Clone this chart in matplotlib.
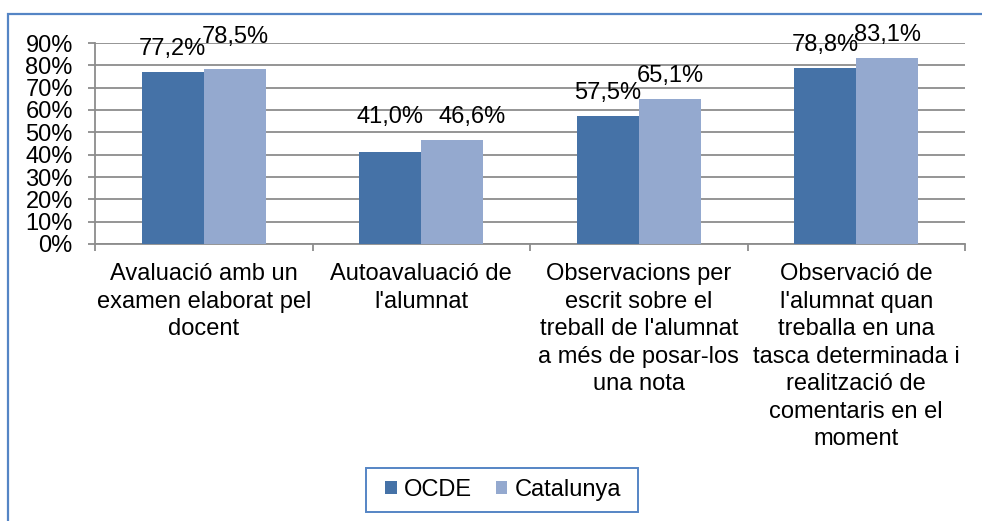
import matplotlib
matplotlib.use("Agg")
import matplotlib.pyplot as plt
from matplotlib.patches import Rectangle, Patch
import numpy as np

categories = [
    "Avaluació amb un\nexamen elaborat pel\ndocent",
    "Autoavaluació de\nl'alumnat",
    "Observacions per\nescrit sobre el\ntreball de l'alumnat\na més de posar-los\nuna nota",
    "Observació de\nl'alumnat quan\ntreballa en una\ntasca determinada i\nrealització de\ncomentaris en el\nmoment",
]
ocde = [77.2, 41.0, 57.5, 78.8]
catalunya = [78.5, 46.6, 65.1, 83.1]
series_names = ["OCDE", "Catalunya"]
yticks = [0, 10, 20, 30, 40, 50, 60, 70, 80, 90]

C_OCDE = "#4572A7"
C_CAT = "#94A9CF"
C_BORDER = "#5585C5"
C_GRID = "#8C8C8C"
FS = 17

plt.rcParams["font.family"] = ["Liberation Sans", "DejaVu Sans"]

W, H = 982, 521
fig = plt.figure(figsize=(W / 100, H / 100), dpi=100)
ax = fig.add_axes([95 / W, (H - 244) / H, 870 / W, 201 / H])

x = np.arange(len(categories))
w = 1 / 3.5
b1 = ax.bar(x - w / 2, ocde, w, color=C_OCDE, zorder=3)
b2 = ax.bar(x + w / 2, catalunya, w, color=C_CAT, zorder=3)

ax.set_xlim(-0.5, len(categories) - 0.5)
ax.set_ylim(0, 90)
ax.set_yticks(yticks)
ax.set_yticklabels([f"{v}%" for v in yticks], fontsize=FS)
ax.yaxis.grid(True, color=C_GRID, linewidth=1.3, zorder=0)
ax.set_axisbelow(True)

ax.set_xticks(x)
ax.set_xticklabels(categories, fontsize=FS, va="top")
for t in ax.get_xticklabels():
    t.set_linespacing(1.32)
ax.set_xticks(np.arange(len(categories) + 1) - 0.5, minor=True)
ax.tick_params(axis="x", which="major", length=0, pad=14)
ax.tick_params(axis="x", which="minor", length=5, color=C_GRID, width=1.3)
ax.tick_params(axis="y", length=5, color=C_GRID, width=1.3, pad=11)

for s in ["top", "right"]:
    ax.spines[s].set_visible(False)
for s in ["left", "bottom"]:
    ax.spines[s].set_color(C_GRID)
    ax.spines[s].set_linewidth(1.3)

# data labels (outside end), with small nudges (pixels) as in the reference
nudges = {(0, 1): (0, 9), (1, 0): (0, 12), (1, 1): (20, 0)}
for si, (bars, vals) in enumerate([(b1, ocde), (b2, catalunya)]):
    for ci, (bar, v) in enumerate(zip(bars, vals)):
        dx, dy = nudges.get((ci, si), (0, 0))
        ax.annotate(f"{v:.1f}%".replace(".", ","),
                    xy=(bar.get_x() + bar.get_width() / 2, v),
                    xytext=((dx) * 0.72, (17 + dy) * 0.72), textcoords="offset points",
                    ha="center", va="baseline", fontsize=FS, zorder=5)

# outer chart border
fig.patches.append(Rectangle((8 / W, -0.1), 1.2, 1 - 14 / H + 0.1,
                             transform=fig.transFigure, fill=False,
                             edgecolor=C_BORDER, linewidth=1.6))

# legend box
fig.patches.append(Rectangle((366 / W, (H - 512) / H), 272 / W, 44 / H,
                             transform=fig.transFigure, fill=False,
                             edgecolor=C_BORDER, linewidth=1.4))
handles = [Patch(facecolor=C_OCDE), Patch(facecolor=C_CAT)]
fig.legend(handles, series_names, loc="center", bbox_to_anchor=(503 / W, (H - 490) / H),
           ncol=2, frameon=False, fontsize=FS, handlelength=0.5, handleheight=0.5,
           handletextpad=0.3, columnspacing=1.0, borderpad=0.2)

fig.savefig("out.png", dpi=100)
